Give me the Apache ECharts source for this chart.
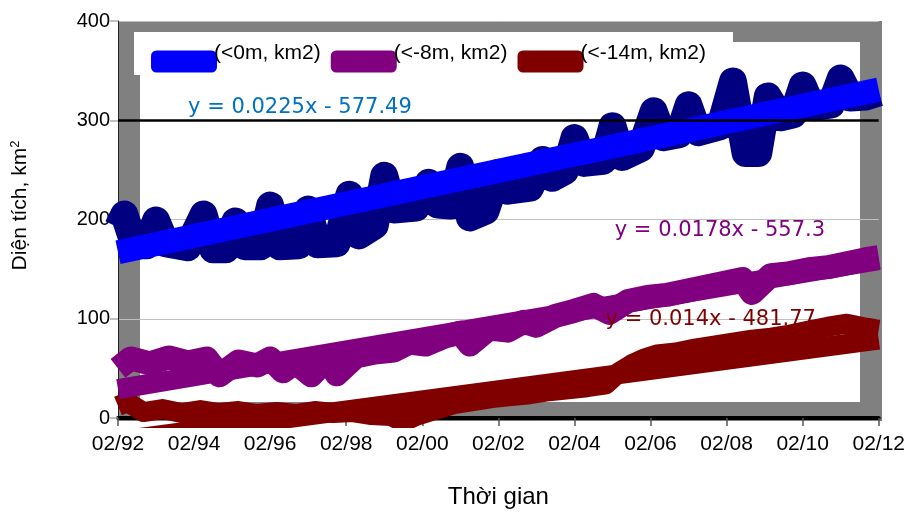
<!DOCTYPE html>
<html><head><meta charset="utf-8">
<script src="https://cdn.jsdelivr.net/npm/echarts@6/dist/echarts.min.js"></script>
<style>html,body{margin:0;padding:0;background:#fff}#c{width:908px;height:514px}</style>
</head><body><div id="c"></div>
<script>
// x = months since Feb 1992
const xTickLabels = ['02/92','02/94','02/96','02/98','02/00','02/02','02/04','02/06','02/08','02/10','02/12'];
const seriesNames = ['(<0m, km2)', '(<-8m, km2)', '(<-14m, km2)'];

const navyMonths = [0,2,5,9,12,15,22,27,30,34,37,40,45,48,51,57,60,63,69,73,76,81,84,87,94,98,101,105,108,111,116,120,123,130,134,137,141,144,147,153,156,159,165,169,172,177,180,183,190,194,198,202,205,209,213,216,219,225,228,231,236,240];
const navyValues = [192,205,176,174,199,176,172,205,170,170,198,173,173,214,173,174,210,175,176,225,184,194,244,210,212,237,215,214,253,202,209,247,229,232,260,242,249,282,257,259,294,263,272,309,283,286,315,288,294,339,267,267,324,303,306,335,313,316,342,323,324,328];

const purpleMonths = [0,4,10,16,22,28,32,38,44,48,52,56,61,66,69,75,81,87,92,97,103,108,111,117,123,128,132,138,144,150,155,161,167,173,179,185,191,197,200,206,212,218,224,230,236,240];
const purpleValues = [50,60,55,61,56,60,43,57,53,60,47,56,43,60,44,62,66,68,76,74,82,86,74,90,88,97,93,103,108,114,106,118,122,124,128,132,136,140,126,144,146,150,152,156,160,162];

const redMonths = [0,3,8,14,20,26,32,38,44,50,56,62,68,74,80,86,90,94,100,106,112,118,124,130,136,142,148,154,158,162,166,170,176,182,188,194,200,206,212,218,224,230,236,240];
const redValues = [12,16,6,9,5,8,5,7,4,6,4,7,5,6,3,2,-4,2,8,14,17,20,22,24,27,29,31,34,46,54,60,64,66,70,73,76,79,81,84,88,92,95,91,89];

// trend lines (end points)
const trendMonths = [0, 240];
const navyTrend = [167, 331];
const purpleTrend = [29, 159];
const redTrend = [-23, 79];

const equations = ['y = 0.0225x - 577.49', 'y = 0.0178x - 557.3', 'y = 0.014x - 481.77'];
const equationPos = [[57.4, 313], [189.9, 189], [187, 99]];

const dataColors = ['#000080', '#800080', '#800000'];
const legendColors = ['#0000FF', '#800080', '#800000'];
const trendColors = ['#0000FF', '#800080', '#800000'];
const eqColors = ['#0070C0', '#800080', '#800000'];

const zip = (xs, ys) => xs.map((x, i) => [x, ys[i]]);
const FONT = 'Liberation Sans, Arial, sans-serif';

const chart = echarts.init(document.getElementById('c'), null, {renderer: 'canvas'});
const mkTrend = (vals, i, width) => ({
  type: 'line', data: zip(trendMonths, vals), showSymbol: false, silent: true, z: 4,
  lineStyle: {color: trendColors[i], width: width, cap: 'butt'},
  itemStyle: {color: trendColors[i]},
  markPoint: {
    silent: true, symbol: 'circle', symbolSize: 1,
    itemStyle: {color: 'rgba(0,0,0,0)'},
    label: {show: true, position: 'inside', formatter: equations[i], color: eqColors[i],
            fontSize: 21, fontFamily: 'DejaVu Sans, sans-serif'},
    data: [{coord: equationPos[i]}]
  }
});
const mkData = (xs, ys, i, z, w) => ({
  name: seriesNames[i], type: 'line', data: zip(xs, ys), showSymbol: false, z: z,
  lineStyle: {color: dataColors[i], width: w, join: 'round'},
  itemStyle: {color: legendColors[i]}
});
const purpleSeries = mkData(purpleMonths, purpleValues, 1, 2, 24);
purpleSeries.markLine = {
  silent: true, symbol: 'none', label: {show: false},
  lineStyle: {color: '#000', width: 2.5, type: 'solid'},
  data: [{yAxis: 300}]
};

chart.setOption({
  animation: false,
  backgroundColor: '#fff',
  graphic: [
    {type: 'rect', z: -10, shape: {x: 118, y: 21, width: 764, height: 400}, style: {fill: '#808080'}},
    {type: 'rect', z: -9, shape: {x: 140, y: 42, width: 720, height: 360}, style: {fill: '#fff'}},
    {type: 'rect', z: -8, shape: {x: 134, y: 32, width: 599, height: 43}, style: {fill: '#fff'}}
  ],
  grid: {left: 118, right: 28, top: 21, bottom: 93},
  legend: {
    left: 134, top: 25, orient: 'horizontal',
    padding: [18, 3, 3, 17],
    itemWidth: 66, itemHeight: 22, itemGap: 10,
    formatter: n => '{t|' + n + '}',
    textStyle: {fontSize: 21, fontFamily: FONT, color: '#000',
      rich: {t: {fontSize: 21, fontFamily: FONT, color: '#000', padding: [0, 0, 16, -8]}}},
    data: seriesNames.map((n, i) => ({name: n, icon: 'roundRect', itemStyle: {color: legendColors[i]}}))
  },
  xAxis: {
    type: 'value', min: 0, max: 240, interval: 24,
    name: 'Thời gian', nameLocation: 'middle', nameGap: 67,
    nameTextStyle: {fontSize: 24, fontFamily: FONT, color: '#000'},
    axisLine: {show: true, onZero: false, lineStyle: {color: '#000', width: 4}},
    axisTick: {show: true, length: 8, lineStyle: {color: '#555', width: 1.5}},
    axisLabel: {fontSize: 21, fontFamily: FONT, color: '#000', margin: 16,
      formatter: v => xTickLabels[Math.round(v / 24)]},
    splitLine: {show: false}
  },
  yAxis: {
    type: 'value', min: 0, max: 400, interval: 100,
    name: 'Diện tích, km{sup|2}', nameLocation: 'middle', nameGap: 86, nameRotate: 90,
    nameTextStyle: {fontSize: 21, fontFamily: FONT, color: '#000', padding: [0, 0, 0, 28],
      rich: {sup: {fontSize: 13, fontFamily: FONT, color: '#000', verticalAlign: 'top', padding: [0, 0, 10, 0]}}},
    axisLine: {show: true, lineStyle: {color: '#222', width: 1}},
    axisTick: {show: true, length: 8, lineStyle: {color: '#aaa', width: 1.5}},
    axisLabel: {fontSize: 20, fontFamily: FONT, color: '#000', margin: 8},
    splitLine: {show: true, lineStyle: {color: '#c0c0c0', width: 1}}
  },
  series: [
    mkData(navyMonths, navyValues, 0, 3, 28),
    purpleSeries,
    mkData(redMonths, redValues, 2, 2, 20),
    mkTrend(navyTrend, 0, 24),
    mkTrend(purpleTrend, 1, 20),
    mkTrend(redTrend, 2, 20)
  ]
});
</script></body></html>
